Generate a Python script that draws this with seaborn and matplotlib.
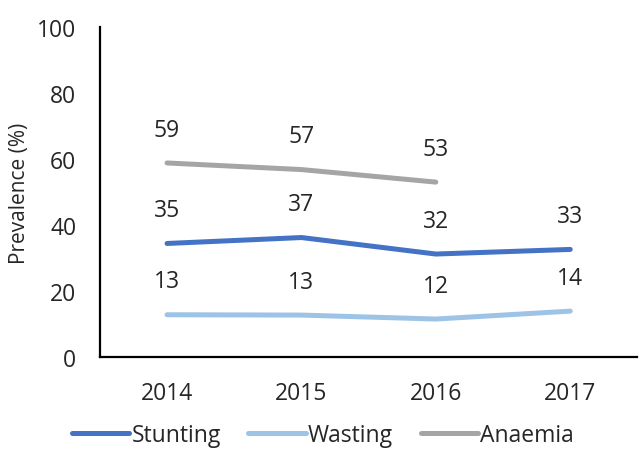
import matplotlib.pyplot as plt
import numpy as np
import pandas as pd
import seaborn as sns

years = ['2014', '2015', '2016', '2017']
stunting = [34.4, 36.2, 31.2, 32.6]
wasting = [12.8, 12.7, 11.5, 13.9]
anaemia = [58.8, 56.8, 53.0, np.nan]
stunting_labels = ['35', '37', '32', '33']
wasting_labels = ['13', '13', '12', '14']
anaemia_labels = ['59', '57', '53', '']

series = ['Stunting', 'Wasting', 'Anaemia']
colors = ['#4472C4', '#9DC3E6', '#A5A5A5']

df = pd.DataFrame({
    'Year': years * 3,
    'Indicator': np.repeat(series, len(years)),
    'Prevalence': stunting + wasting + anaemia,
    'Label': stunting_labels + wasting_labels + anaemia_labels,
})
df['x'] = np.tile(np.arange(len(years)), 3)

sns.set_style('white')
plt.rcParams['font.family'] = ['Open Sans', 'DejaVu Sans']

fig = plt.figure(figsize=(6.4, 4.52), dpi=100)
ax = fig.add_axes([0.156, 0.208, 0.84, 0.73])

sns.lineplot(data=df, x='x', y='Prevalence', hue='Indicator', palette=colors,
             linewidth=3.6, ax=ax, legend=True)

# data labels above each point
for _, row in df.dropna(subset=['Prevalence']).iterrows():
    ax.annotate(row['Label'], (row['x'], row['Prevalence']), xytext=(0, 24),
                textcoords='offset points', ha='center', va='center',
                fontsize=16.5, color='#262626')

ax.set_xlim(-0.5, len(years) - 0.5)
ax.set_ylim(0, 100)
ax.set_yticks(range(0, 101, 20))
ax.set_xticks(range(len(years)))
ax.set_xticklabels(years)
ax.tick_params(axis='both', length=0, labelsize=16.5, colors='#262626')
ax.tick_params(axis='x', pad=17)
ax.tick_params(axis='y', pad=17)
ax.set_xlabel('')
ax.set_ylabel('Prevalence (%)', fontsize=15, color='#262626', labelpad=5)

for s in ['top', 'right']:
    ax.spines[s].set_visible(False)
for s in ['left', 'bottom']:
    ax.spines[s].set_color('black')
    ax.spines[s].set_linewidth(1.6)

ax.legend(loc='center', bbox_to_anchor=(0.415, -0.235), ncol=3, frameon=False,
          fontsize=16.5, handlelength=2.5, handletextpad=0.1, columnspacing=1.2,
          labelcolor='#262626', borderpad=0)

fig.savefig('out.png', dpi=100)
